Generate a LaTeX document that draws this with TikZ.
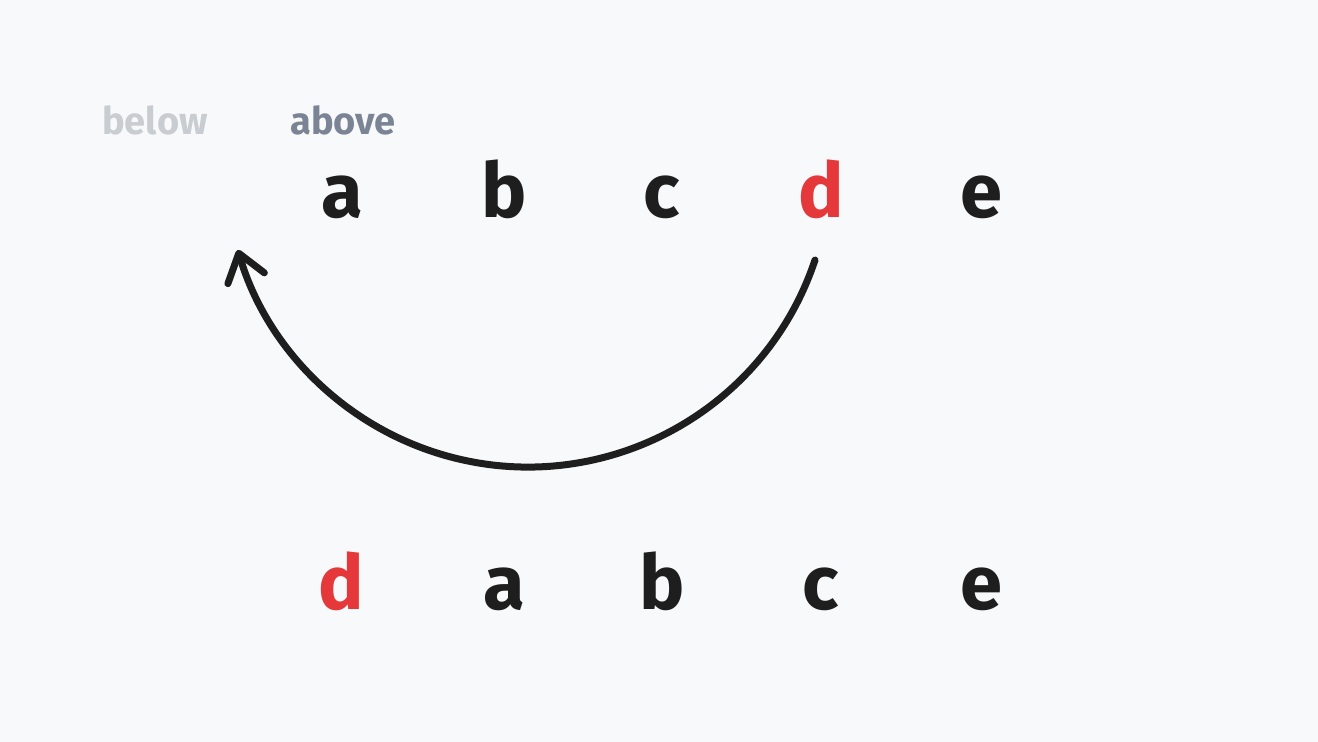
\documentclass[tikz,border=0pt]{standalone}
\usepackage{fontspec}
\setmainfont{Fira Sans}
\usetikzlibrary{arrows.meta}
\definecolor{paper}{HTML}{F8F9FA}
\definecolor{ink}{HTML}{1E1E1E}
\definecolor{hot}{HTML}{E5383B}
\definecolor{faint}{HTML}{C9CCD1}
\definecolor{slate}{HTML}{7B8494}
\begin{document}
\begin{tikzpicture}[x=1pt,y=1pt]
\tikzstyle{every node}+=[inner sep=0pt]
\tikzstyle{letter}=[anchor=base,font=\fontsize{76}{76}\selectfont\bfseries,text=ink]
\tikzstyle{tag}=[anchor=base,font=\fontsize{38}{38}\selectfont\bfseries]
\tikzstyle{swing}=[draw=ink,line width=7pt,line cap=round,line join=round,
  -{Straight Barb[length=26pt,width=38pt,line cap=round,line join=round]}]
\fill [paper] (0,0) rectangle (1318,742);
\useasboundingbox (0,0) rectangle (1318,742);
% labels
\node [tag,text=faint] (below) at (155,607) {below};
\node [tag,text=slate] (above) at (343,607) {above};
% top row
\node [letter] (a1) at (342,524) {a};
\node [letter] (b1) at (504,524) {b};
\node [letter] (c1) at (662,524) {c};
\node [letter,text=hot] (d1) at (821,524) {d};
\node [letter] (e1) at (981,524) {e};
% bottom row
\node [letter,text=hot] (d2) at (341,132) {d};
\node [letter] (a2) at (504,132) {a};
\node [letter] (b2) at (662,132) {b};
\node [letter] (c2) at (821,132) {c};
\node [letter] (e2) at (981,132) {e};
% move d to the front
\coordinate (tail) at ([xshift=-6pt,yshift=-42pt]d1.base);
\draw [swing] (tail) arc [start angle=-18.4, end angle=-163.6, radius=302.5];
\end{tikzpicture}
\end{document}
